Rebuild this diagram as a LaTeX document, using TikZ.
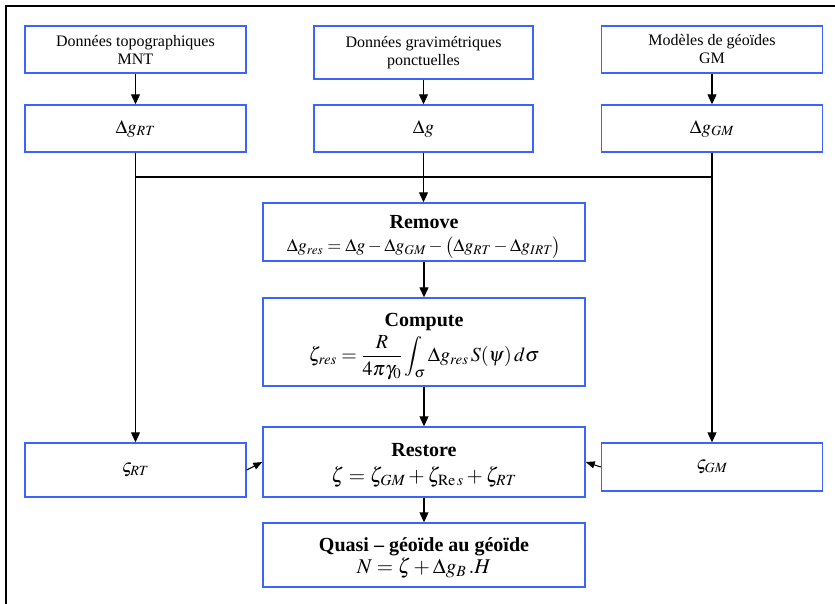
\documentclass[tikz,border=0pt]{standalone}
\usepackage{mathptmx}
\usepackage[no-math]{fontspec}
\setmainfont{Liberation Serif}
\usetikzlibrary{arrows.meta}
\definecolor{boxblue}{RGB}{60,100,250}
\newcommand{\boxtitle}[1]{{\fontsize{20}{24}\selectfont\bfseries #1}}
\begin{document}
\begin{tikzpicture}[x=1pt,y=-1pt,
  box/.style={draw=boxblue,line width=1.4pt,inner sep=0pt,align=center,anchor=center},
  sidebox/.style={box,minimum width=221pt},
  midbox/.style={box,minimum width=322pt},
  link/.style={line width=1.1pt,-{Triangle[length=10pt,width=9pt]}},
  sidelink/.style={line width=1.1pt,-{Triangle[length=9pt,width=7pt]}},
  plain/.style={line width=1.1pt},
  small/.style={font=\fontsize{16}{18}\selectfont},
  big/.style={font=\fontsize{19}{24}\selectfont}]
\useasboundingbox (0,0) rectangle (835,603);
\clip (0,0) rectangle (835,603);

% outer frame
\draw[line width=1.6pt] (6,620) -- (6,6) -- (850,6);

% data sources
\node[sidebox,small,minimum height=47pt] (a1) at (135.5,49.5) {Données topographiques\\MNT};
\node[sidebox,small,minimum width=219pt,minimum height=53pt] (b1) at (423.5,52.5) {Données gravimétriques\\ponctuelles};
\node[sidebox,small,minimum height=47pt] (c1) at (712,49.5) {Modèles de géoïdes\\GM};

% anomalies
\node[sidebox,big,minimum height=47pt] (a2) at (135.5,128.5) {$\Delta g_{RT}$};
\node[sidebox,big,minimum width=219pt,minimum height=47pt] (b2) at (423.5,128.5) {$\Delta g$};
\node[sidebox,big,minimum height=47pt] (c2) at (712,128.5) {$\Delta g_{GM}$};

% processing chain
\node[midbox,minimum height=58pt] (remove) at (424,232)
  {\rule{0pt}{22pt}\boxtitle{Remove}\\[7pt]
   {\fontsize{18}{22}\selectfont
   $\Delta g_{res} = \Delta g - \Delta g_{GM} -\bigl(\Delta g_{RT} - \Delta g_{IRT}\bigr)$}};
\node[midbox,minimum height=88pt] (compute) at (424,342)
  {\rule{0pt}{22pt}\boxtitle{Compute}\\[4pt]
   {\fontsize{20}{24}\selectfont
   $\displaystyle \zeta_{res} = \frac{R}{4\pi\gamma_0}\int_{\sigma} \Delta g_{res}\, S(\psi)\, d\sigma$}};
\node[midbox,minimum height=70pt] (restore) at (424,462)
  {\rule{0pt}{20pt}\boxtitle{Restore}\\[9pt]
   {\fontsize{21}{24}\selectfont
   $\zeta = \zeta_{GM} + \zeta_{\mathrm{Re}\,s} + \zeta_{RT}$}};
\node[midbox,minimum height=64pt] (quasi) at (424,555)
  {\rule{0pt}{20pt}\boxtitle{Quasi -- géoïde au géoïde}\\[1pt]
   {\fontsize{21}{24}\selectfont $N = \zeta + \Delta g_{B}\, .H$}};

% restored components
\node[sidebox,big,minimum height=54pt] (srt) at (135.5,470) {$\varsigma_{RT}$};
\node[sidebox,big,minimum height=48pt] (sgm) at (712,467) {$\varsigma_{GM}$};

% junction of the three anomaly branches
\coordinate (j) at (b2.south |- 0,177);

% connectors
\draw[link] (a1) -- (a2);
\draw[link] (b1) -- (b2);
\draw[link] (c1) -- (c2);
\draw[plain] (a2.south |- j) -- (c2.south |- j);
\draw[link] (b2.south) -- (b2.south |- remove.north);
\draw[link] (a2.south) -- (srt.north);
\draw[link] (c2.south) -- (sgm.north);
\draw[link] (remove) -- (compute);
\draw[link] (compute) -- (restore);
\draw[link] (restore) -- (quasi);
\draw[sidelink] (srt.east) -- (restore.west);
\draw[sidelink] (sgm.west) -- (restore.east);
\end{tikzpicture}
\end{document}
